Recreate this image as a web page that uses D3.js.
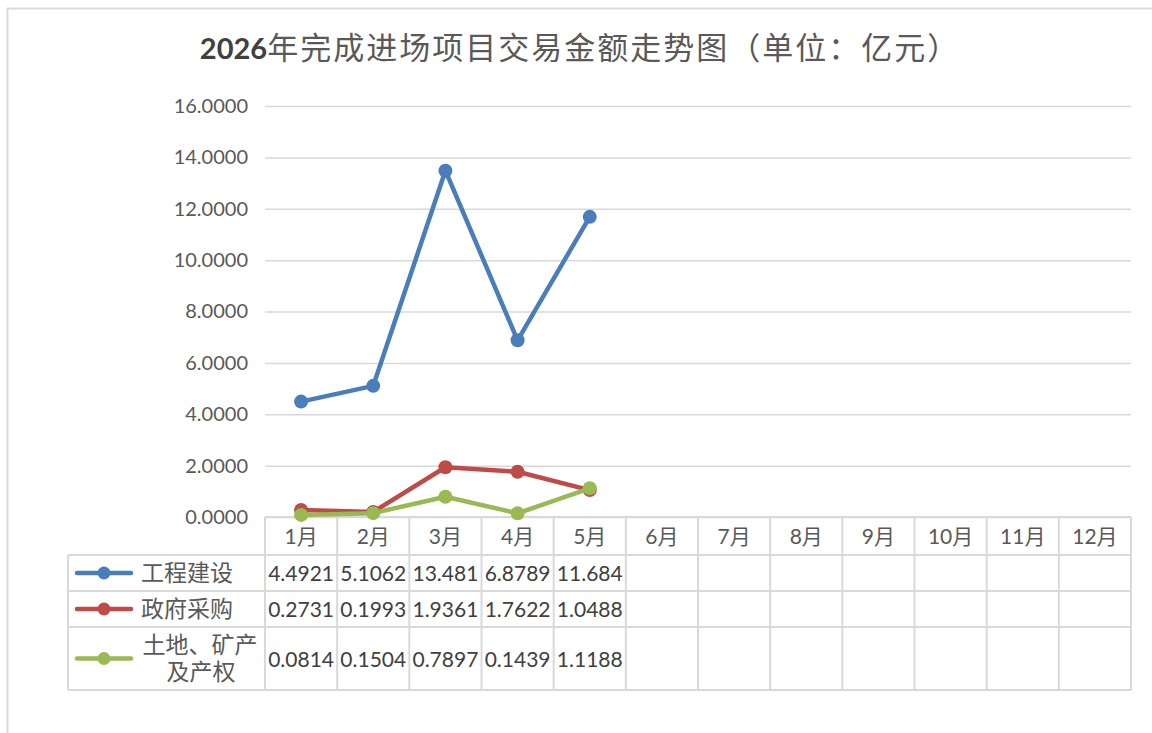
<!DOCTYPE html>
<html>
<head>
<meta charset="utf-8">
<script src="https://cdn.jsdelivr.net/npm/d3@7"></script>
<style>
  html, body { margin: 0; padding: 0; background: #fff; }
  svg text { font-family: Lato, "Noto Sans CJK SC", sans-serif; }
</style>
</head>
<body>
<svg id="chart" width="1152" height="733"></svg>
<script>
// data
const months = ['1月', '2月', '3月', '4月', '5月', '6月', '7月', '8月', '9月', '10月', '11月', '12月'];
const seriesNames = ['工程建设', '政府采购', '土地、矿产及产权'];
const gongcheng = [4.4921, 5.1062, 13.481, 6.8789, 11.684];
const zhengfu = [0.2731, 0.1993, 1.9361, 1.7622, 1.0488];
const tudi = [0.0814, 0.1504, 0.7897, 0.1439, 1.1188];
const yTicks = [0, 2, 4, 6, 8, 10, 12, 14, 16];
const valueLabels = [
  ['4.4921', '5.1062', '13.481', '6.8789', '11.684'],
  ['0.2731', '0.1993', '1.9361', '1.7622', '1.0488'],
  ['0.0814', '0.1504', '0.7897', '0.1439', '1.1188']
];

const colors = ['#4a7ebb', '#be4b48', '#98b954'];
const seriesData = [gongcheng, zhengfu, tudi];

const svg = d3.select('#chart');
const grid = '#d9d9d9';

// outer chart frame
svg.append('path')
  .attr('d', 'M7.5,733 V8.5 H1152')
  .attr('fill', 'none')
  .attr('stroke', grid)
  .attr('stroke-width', 2);

// title
const title = svg.append('text')
  .attr('x', 580)
  .attr('y', 59)
  .attr('text-anchor', 'middle')
  .attr('fill', '#595959');
title.append('tspan')
  .attr('font-size', 29)
  .attr('font-weight', 'bold')
  .attr('fill', '#404040')
  .text('2026');
title.append('tspan')
  .attr('font-size', 31)
  .attr('letter-spacing', 2)
  .text('年完成进场项目交易金额走势图（单位：亿元）');

// scales
const x = d3.scaleBand().domain(months).range([265, 1131]);
const y = d3.scaleLinear().domain([0, 16]).range([517, 106]);

// y axis + gridlines
const yAxis = svg.append('g')
  .attr('transform', 'translate(265,0)')
  .call(d3.axisLeft(y)
    .tickValues(yTicks)
    .tickFormat(d3.format('.4f'))
    .tickSize(-(1131 - 265))
    .tickPadding(17));
yAxis.select('.domain').remove();
yAxis.selectAll('.tick line').attr('stroke', grid).attr('stroke-width', 1.5);
yAxis.selectAll('.tick text')
  .attr('font-size', 20)
  .attr('fill', '#595959');

// data table
const rowY = [517, 555, 591, 627, 690];
const tbl = svg.append('g')
  .attr('stroke', grid)
  .attr('stroke-width', 2)
  .attr('fill', 'none');
tbl.append('line').attr('x1', 265).attr('x2', 1131).attr('y1', rowY[0]).attr('y2', rowY[0]);
rowY.slice(1).forEach(function(ry) {
  tbl.append('line').attr('x1', 68).attr('x2', 1131).attr('y1', ry).attr('y2', ry);
});
tbl.append('line').attr('x1', 68).attr('x2', 68).attr('y1', rowY[1]).attr('y2', rowY[4]);
months.forEach(function(m) {
  tbl.append('line')
    .attr('x1', x(m)).attr('x2', x(m))
    .attr('y1', rowY[0]).attr('y2', rowY[4]);
});
tbl.append('line').attr('x1', 1131).attr('x2', 1131).attr('y1', rowY[0]).attr('y2', rowY[4]);

// month headers
svg.append('g').selectAll('text')
  .data(months)
  .join('text')
  .attr('x', d => x(d) + x.bandwidth() / 2)
  .attr('y', (rowY[0] + rowY[1]) / 2 + 8)
  .attr('text-anchor', 'middle')
  .attr('font-size', 21)
  .attr('fill', '#595959')
  .text(d => d);

// legend keys + names in the table
seriesNames.forEach(function(name, i) {
  const cy = (rowY[i + 1] + rowY[i + 2]) / 2;
  const g = svg.append('g');
  g.append('line')
    .attr('x1', 77).attr('x2', 131)
    .attr('y1', cy).attr('y2', cy)
    .attr('stroke', colors[i])
    .attr('stroke-width', 4.5)
    .attr('stroke-linecap', 'round');
  g.append('circle')
    .attr('cx', 104).attr('cy', cy).attr('r', 6.5)
    .attr('fill', colors[i]);
  if (i < 2) {
    g.append('text')
      .attr('x', 141).attr('y', cy + 8)
      .attr('font-size', 23)
      .attr('fill', '#595959')
      .text(name);
  } else {
    const t = g.append('text')
      .attr('text-anchor', 'middle')
      .attr('font-size', 23)
      .attr('fill', '#595959');
    t.append('tspan').attr('x', 200).attr('y', cy - 6).text('土地、矿产');
    t.append('tspan').attr('x', 201).attr('y', cy + 21).text('及产权');
  }
  svg.append('g').selectAll('text')
    .data(valueLabels[i])
    .join('text')
    .attr('x', (d, j) => x(months[j]) + x.bandwidth() / 2)
    .attr('y', cy + 8)
    .attr('text-anchor', 'middle')
    .attr('font-size', 21)
    .attr('fill', '#404040')
    .text(d => d);
});

// lines and markers
const line = d3.line()
  .x((d, j) => x(months[j]) + x.bandwidth() / 2)
  .y(d => y(d));

seriesData.forEach(function(vals, i) {
  const g = svg.append('g');
  g.append('path')
    .datum(vals)
    .attr('d', line)
    .attr('fill', 'none')
    .attr('stroke', colors[i])
    .attr('stroke-width', 4.5)
    .attr('stroke-linejoin', 'round');
  g.selectAll('circle')
    .data(vals)
    .join('circle')
    .attr('cx', (d, j) => x(months[j]) + x.bandwidth() / 2)
    .attr('cy', d => y(d))
    .attr('r', 7)
    .attr('fill', colors[i]);
});
</script>
</body>
</html>
